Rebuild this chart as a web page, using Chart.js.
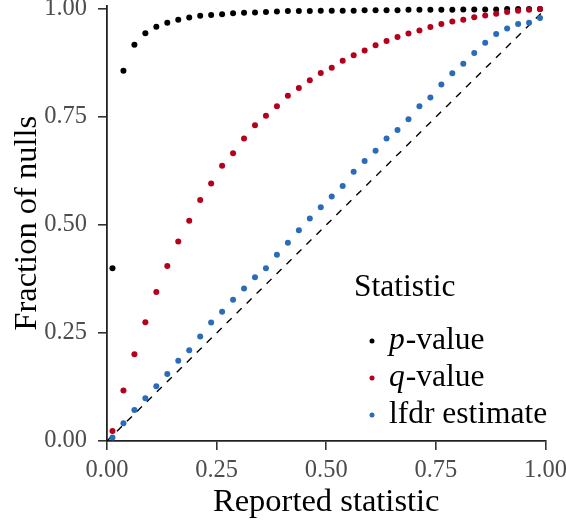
<!DOCTYPE html>
<html><head><meta charset="utf-8">
<script src="https://cdn.jsdelivr.net/npm/chart.js@4.4.1/dist/chart.umd.min.js"></script>
<style>html,body{margin:0;padding:0;background:#fff}</style>
</head><body>
<canvas id="c" width="566" height="523"></canvas>
<script>
const xVals = [0.0125,0.0375,0.0625,0.0875,0.1125,0.1375,0.1625,0.1875,0.2125,0.2375,0.2625,0.2875,0.3125,0.3375,0.3625,0.3875,0.4125,0.4375,0.4625,0.4875,0.5125,0.5375,0.5625,0.5875,0.6125,0.6375,0.6625,0.6875,0.7125,0.7375,0.7625,0.7875,0.8125,0.8375,0.8625,0.8875,0.9125,0.9375,0.9625,0.9875];
const pValues = [0.400,0.857,0.917,0.944,0.959,0.968,0.975,0.980,0.984,0.986,0.988,0.990,0.991,0.992,0.993,0.994,0.995,0.995,0.995,0.996,0.996,0.996,0.996,0.997,0.997,0.997,0.997,0.998,0.998,0.998,0.998,0.998,0.999,0.999,0.999,0.999,1.000,1.000,1.000,1.000];
const qValues = [0.023,0.117,0.201,0.275,0.345,0.405,0.462,0.510,0.558,0.596,0.637,0.666,0.700,0.731,0.753,0.775,0.799,0.817,0.835,0.852,0.864,0.880,0.893,0.904,0.916,0.926,0.935,0.943,0.950,0.958,0.965,0.971,0.975,0.981,0.985,0.989,0.993,0.996,0.998,1.000];
const lfdrValues = [0.008,0.041,0.072,0.099,0.127,0.155,0.186,0.210,0.242,0.274,0.299,0.327,0.353,0.379,0.400,0.431,0.459,0.488,0.515,0.541,0.566,0.590,0.623,0.648,0.672,0.700,0.720,0.745,0.775,0.795,0.825,0.851,0.873,0.898,0.922,0.942,0.955,0.965,0.968,0.979];
const diagX = [0, 1];
const diagY = [0, 1];
const xTicks = [0, 0.25, 0.5, 0.75, 1];
const yTicks = [0, 0.25, 0.5, 0.75, 1];
const seriesNames = ['p-value', 'q-value', 'lfdr estimate'];
const seriesColors = ['#000000', '#B5001C', '#2B6CB8'];
const legendTitle = 'Statistic';
const xTitle = 'Reported statistic';
const yTitle = 'Fraction of nulls';

const F = '"Liberation Serif", "Times New Roman", serif';
const toPts = (ys) => ys.map((y, i) => ({x: xVals[i], y}));
const allSeries = [pValues, qValues, lfdrValues];

const datasets = allSeries.map((ys, k) => ({
  label: seriesNames[k], data: toPts(ys),
  backgroundColor: seriesColors[k], borderColor: seriesColors[k],
  pointRadius: 3, pointBorderWidth: 0, pointHoverRadius: 3,
  showLine: false, clip: false, order: 2 - k
}));
datasets.push({
  label: 'diag', data: diagX.map((x, i) => ({x, y: diagY[i]})),
  showLine: true, borderColor: '#000', borderWidth: 1.4, borderDash: [7, 7],
  pointRadius: 0, fill: false, order: 5
});

const LF = 31.5;
const legendPlugin = {
  id: 'customLegend',
  afterDraw(chart) {
    const {ctx, chartArea: a} = chart;
    ctx.save();
    ctx.fillStyle = '#000';
    ctx.textBaseline = 'alphabetic';
    ctx.textAlign = 'left';
    ctx.font = LF + 'px ' + F;
    ctx.fillText(legendTitle, a.left + 247, a.top + 290.5);
    const rowY = [335.5, 372.5, 409.5];
    seriesNames.forEach((name, k) => {
      const y = a.top + rowY[k];
      ctx.beginPath();
      ctx.fillStyle = seriesColors[k];
      ctx.arc(a.left + 265, y, 2.5, 0, Math.PI * 2);
      ctx.fill();
      ctx.fillStyle = '#000';
      let x = a.left + 282;
      const base = y + 7.5;
      if (k < 2) {
        ctx.font = 'italic ' + LF + 'px ' + F;
        const letter = name.charAt(0);
        ctx.fillText(letter, x, base);
        x += ctx.measureText(letter).width + 1;
        ctx.font = LF + 'px ' + F;
        ctx.fillText(name.slice(1), x, base);
      } else {
        ctx.font = LF + 'px ' + F;
        ctx.fillText(name, x, base);
      }
    });
    ctx.restore();
  }
};

const axisCommon = (ticks) => ({
  type: 'linear',
  afterBuildTicks: s => { s.ticks = ticks.map(v => ({value: v})); },
  grid: {display: true, drawOnChartArea: false, drawTicks: true, tickLength: 9, color: '#333', lineWidth: 1.6},
  border: {display: true, color: '#222', width: 1.8},
  ticks: {color: '#4d4d4d', font: {family: F, size: 24.5}, maxRotation: 0, autoSkip: false,
          callback: v => Number(v).toFixed(2)}
});

const xAxis = axisCommon(xTicks);
Object.assign(xAxis, {min: 0, max: 1,
  afterFit: s => { s.height = 82; s.paddingLeft = 0; s.paddingRight = 0; },
  title: {display: true, text: xTitle, color: '#000', font: {family: F, size: 32.5}, padding: {top: 2, bottom: 1}}
});
xAxis.ticks.padding = 6;
const yAxis = axisCommon(yTicks);
Object.assign(yAxis, {min: 0, max: 1.008,
  afterFit: s => { s.width = 107; s.paddingTop = 0; s.paddingBottom = 0; },
  title: {display: true, text: yTitle, color: '#000', font: {family: F, size: 32.5}, padding: {top: 8, bottom: 8}}
});
yAxis.ticks.padding = 11;

new Chart(document.getElementById('c'), {
  type: 'scatter',
  data: {datasets},
  options: {
    responsive: false, animation: false, devicePixelRatio: 1,
    layout: {padding: {top: 5.5, right: 20.5, left: 0, bottom: 0}},
    plugins: {legend: {display: false}, tooltip: {enabled: false}},
    scales: {x: xAxis, y: yAxis}
  },
  plugins: [legendPlugin]
});
</script>
</body></html>
